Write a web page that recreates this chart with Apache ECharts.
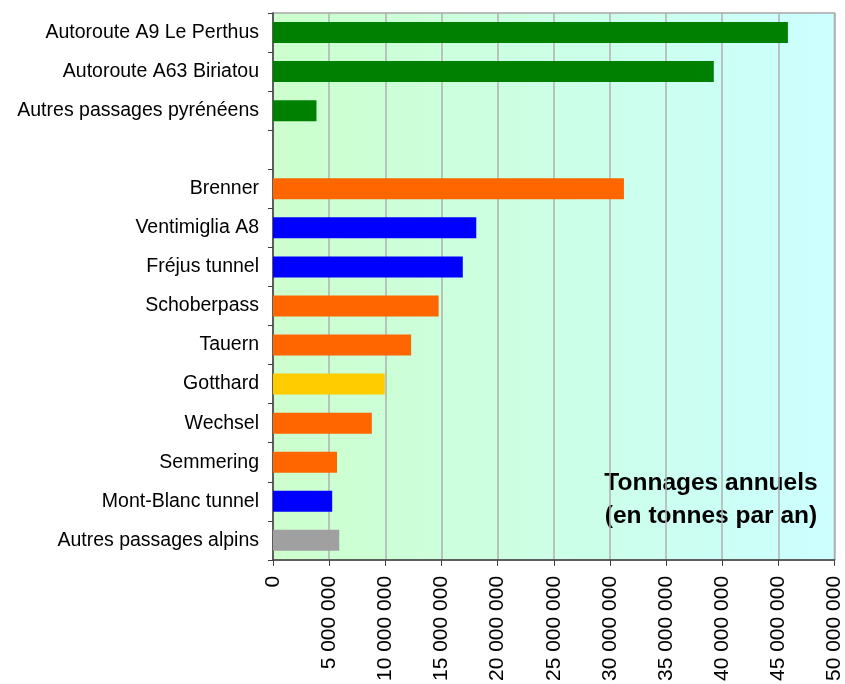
<!DOCTYPE html>
<html>
<head>
<meta charset="utf-8">
<script src="https://cdn.jsdelivr.net/npm/echarts@6/dist/echarts.min.js"></script>
<style>
html, body { margin: 0; padding: 0; background: #fff; }
#chart { width: 845px; height: 684px; }
</style>
</head>
<body>
<div id="chart"></div>
<script>
// passages (de haut en bas), une ligne vide entre Pyrénées et Alpes
var categories = ['Autoroute A9 Le Perthus', 'Autoroute A63 Biriatou', 'Autres passages pyrénéens', '',
	'Brenner', 'Ventimiglia A8', 'Fréjus tunnel', 'Schoberpass', 'Tauern', 'Gotthard',
	'Wechsel', 'Semmering', 'Mont-Blanc tunnel', 'Autres passages alpins'];
// tonnes par an
var tonnages = [45850000, 39250000, 3870000, null,
	31250000, 18100000, 16900000, 14750000, 12300000, 9950000,
	8800000, 5700000, 5270000, 5900000];
// couleur de chaque barre
var barColors = ['#008000', '#008000', '#008000', '#ffffff',
	'#ff6600', '#0000ff', '#0000ff', '#ff6600', '#ff6600', '#ffcc00',
	'#ff6600', '#ff6600', '#0000ff', '#a0a0a0'];
var xTicks = { min: 0, max: 50000000, interval: 5000000 };

var chart = echarts.init(document.getElementById('chart'));

var seriesData = [];
for (var i = 0; i < tonnages.length; i++) {
	seriesData.push({
		value: tonnages[i] == null ? '-' : tonnages[i],
		itemStyle: { color: barColors[i] }
	});
}

function spaced(v) { //5000000 -> "5 000 000"
	return String(v).replace(/\B(?=(\d{3})+(?!\d))/g, ' ');
}

var option = {
	animation: false,
	textStyle: { fontFamily: 'Liberation Sans, Arial, sans-serif' },
	grid: {
		left: 273, top: 13, right: 8, bottom: 124,
		show: true,
		borderColor: '#a8a8a8',
		borderWidth: 1.5,
		backgroundColor: {
			type: 'linear', x: 0, y: 0, x2: 1, y2: 0,
			colorStops: [
				{ offset: 0, color: '#ccffcc' },
				{ offset: 1, color: '#ccffff' }
			]
		}
	},
	xAxis: {
		type: 'value',
		min: xTicks.min,
		max: xTicks.max,
		interval: xTicks.interval,
		axisLine: { show: true, lineStyle: { color: '#404040', width: 1.5 } },
		axisTick: { show: true, length: 6, lineStyle: { color: '#404040' } },
		splitLine: { show: true, lineStyle: { color: '#b0b0b0', width: 1.5 } },
		axisLabel: {
			rotate: 90,
			margin: 16,
			fontSize: 21,
			color: '#000',
			formatter: spaced
		}
	},
	yAxis: {
		type: 'category',
		inverse: true,
		data: categories,
		axisLine: { show: true, lineStyle: { color: '#404040', width: 1.5 } },
		axisTick: { show: true, length: 5, lineStyle: { color: '#404040' } },
		axisLabel: { fontSize: 19.5, color: '#000', margin: 14 }
	},
	series: [{
		type: 'bar',
		data: seriesData,
		barWidth: 21
	}],
	graphic: [{
		type: 'text',
		x: 711,
		y: 467,
		style: {
			text: 'Tonnages annuels\n(en tonnes par an)',
			align: 'center',
			lineHeight: 33,
			fill: '#000',
			font: 'bold 24.5px "Liberation Sans", Arial, sans-serif'
		}
	}]
};

chart.setOption(option);
</script>
</body>
</html>
